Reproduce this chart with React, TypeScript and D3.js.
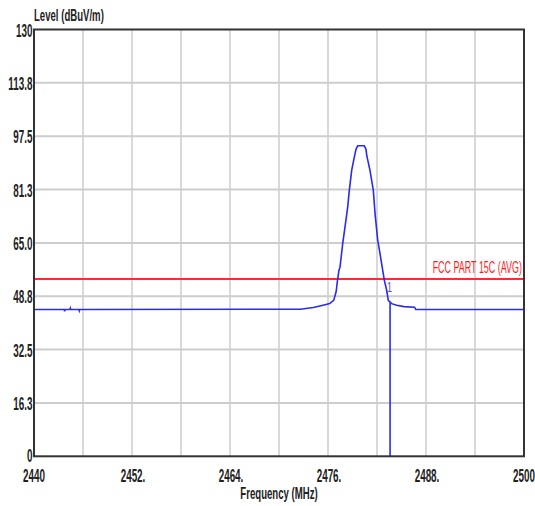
import React from "react";
import * as d3 from "d3";

const freqs = [2440, 2443.7, 2443.75, 2443.8, 2444.4, 2444.45, 2444.5, 2445.5, 2445.55, 2445.6, 2472.6, 2474.2, 2475.4, 2476.2, 2476.7, 2477.0, 2477.16, 2477.34, 2477.47, 2477.8, 2478.08, 2478.41, 2478.61, 2478.9, 2479.22, 2479.43, 2479.64, 2480.44, 2480.65, 2480.75, 2481.14, 2481.55, 2481.76, 2482.09, 2482.37, 2482.7, 2482.9, 2483.19, 2483.38, 2483.8, 2484.4, 2485.3, 2486.6, 2486.75, 2500];
const levels = [44.7, 44.7, 44.2, 44.7, 44.7, 45.1, 44.7, 44.7, 44.3, 44.7, 44.8, 45.3, 46.0, 46.5, 47.5, 50.2, 53.6, 56.6, 57.6, 64.8, 69.8, 75.9, 81.0, 87.1, 91.1, 93.5, 94.6, 94.6, 93.5, 91.6, 87.1, 81.0, 73.9, 65.8, 61.7, 56.6, 53.6, 50.5, 47.5, 46.5, 46.0, 45.6, 45.4, 44.7, 44.7];
const limitLevel = 54;
const limitLabel = "FCC PART 15C (AVG)";
const markerFreq = 2483.6;
const markerLabel = "1";
const yTickValues = [0, 16.25, 32.5, 48.75, 65, 81.25, 97.5, 113.75, 130];
const yTickLabels = ["0", "16.3", "32.5", "48.8", "65.0", "81.3", "97.5", "113.8", "130"];
const xTickValues = [2440, 2452, 2464, 2476, 2488, 2500];
const xTickLabels = ["2440", "2452.", "2464.", "2476.", "2488.", "2500"];
const xGridValues = [2446, 2452, 2458, 2464, 2470, 2476, 2482, 2488, 2494];
const yTitle = "Level (dBuV/m)";
const xTitle = "Frequency (MHz)";

const W = 535, H = 506;
const L = 34, R = 524, T = 29.5, B = 456.3;
const FONT = "'Liberation Sans', Arial, sans-serif";

export default function App() {
  const x = d3.scaleLinear().domain([2440, 2500]).range([L, R]);
  const y = d3.scaleLinear().domain([0, 130]).range([B, T]);
  const pts: [number, number][] = freqs.map((f, i) => [f, levels[i]]);
  const line = d3.line<[number, number]>().x(d => x(d[0])).y(d => y(d[1]));
  const markerLevel = d3.scaleLinear().domain(freqs).range(levels)(markerFreq);
  const label = (txt: string, px: number, py: number, anchor: string, size: number, fill: string, scaleX: number, bold = true, key?: any) => (
    <text key={key} transform={`translate(${px},${py}) scale(${scaleX},1)`} textAnchor={anchor as any} fontFamily={FONT} fontSize={size} fontWeight={bold ? "bold" : "normal"} fill={fill}>{txt}</text>
  );
  return (
    <svg width={W} height={H} style={{ position: "absolute", left: 0, top: 0, background: "#fff" }}>
      <rect x={0} y={0} width={W} height={H} fill="#fff" />
      {yTickValues.slice(1, -1).map((v, i) => (
        <line key={"hy" + i} x1={L} x2={R} y1={y(v)} y2={y(v)} stroke="#cdcdcd" strokeWidth={2} />
      ))}
      {xGridValues.map((v, i) => (
        <line key={"gx" + i} x1={x(v)} x2={x(v)} y1={T} y2={B} stroke="#cdcdcd" strokeWidth={1.5} />
      ))}
      <line x1={L} x2={R} y1={y(limitLevel)} y2={y(limitLevel)} stroke="#ff2a2a" strokeWidth={2} />
      <path d={line(pts) || ""} fill="none" stroke="#2a2af0" strokeWidth={1.6} />
      <line x1={x(markerFreq)} x2={x(markerFreq)} y1={y(markerLevel)} y2={B} stroke="#2a2af0" strokeWidth={1.6} />
      {label(markerLabel, x(markerFreq) - 0.5, y(markerLevel) - 10, "middle", 14, "#5a5ad8", 0.7, false)}
      {label(limitLabel, 522, y(limitLevel) - 6, "end", 16, "#ff1a1a", 0.56, false)}
      <rect x={L} y={T} width={R - L} height={B - T} fill="none" stroke="#333" strokeWidth={2} />
      {yTickValues.map((v, i) => label(yTickLabels[i], 32.5, y(v) + (i === 0 ? 6 : 7), "end", 19, "#222", 0.52, true, "yl" + i))}
      {xTickValues.map((v, i) => label(xTickLabels[i], x(v) - (xTickLabels[i].endsWith(".") ? -1 : 0), 482, "middle", 19, "#222", 0.52, true, "xl" + i))}
      {label(yTitle, 34, 21, "start", 16, "#222", 0.6, true)}
      {label(xTitle, 279, 499, "middle", 16, "#222", 0.6, true)}
    </svg>
  );
}
